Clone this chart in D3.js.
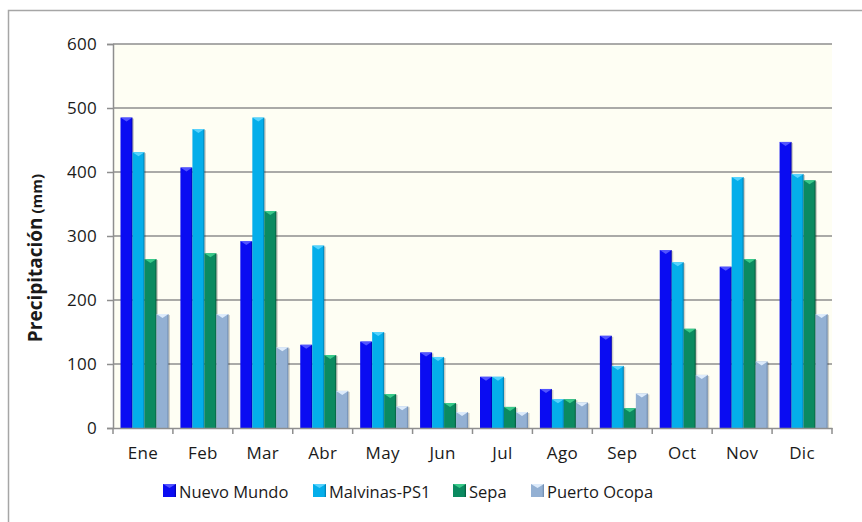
<!DOCTYPE html>
<html>
<head>
<meta charset="utf-8">
<script src="https://cdn.jsdelivr.net/npm/d3@7/dist/d3.min.js"></script>
<style>
  html, body { margin: 0; padding: 0; background: #fff; }
  svg { display: block; }
  text { font-family: "Open Sans", "Noto Sans", sans-serif; fill: #1a1a1a; }
</style>
</head>
<body>
<svg id="chart" width="862" height="522"></svg>
<script>
// Monthly precipitation (mm) at four stations
const months = ["Ene", "Feb", "Mar", "Abr", "May", "Jun", "Jul", "Ago", "Sep", "Oct", "Nov", "Dic"];
const seriesNames = ["Nuevo Mundo", "Malvinas-PS1", "Sepa", "Puerto Ocopa"];
const nuevoMundo  = [485, 407, 292, 130, 135, 118, 80, 61, 144, 278, 252, 447];
const malvinas    = [431, 467, 485, 285, 150, 111, 80, 45, 97, 259, 392, 397];
const sepa        = [264, 273, 339, 114, 53, 39, 33, 45, 31, 155, 264, 387];
const puertoOcopa = [178, 178, 126, 58, 34, 25, 25, 40, 54, 83, 104, 178];
const yTicks = [0, 100, 200, 300, 400, 500, 600];

const seriesValues = [nuevoMundo, malvinas, sepa, puertoOcopa];
const colors = ["#0a0cf2", "#04aeea", "#0b8a60", "#93b0d3"];
const lights = ["#5a5cff", "#5fd6ff", "#3fd08f", "#e6f2ff"];
const darks  = ["#0000a8", "#0078a8", "#06563a", "#6a86aa"];

const svg = d3.select("#chart");

// outer frame
svg.append("rect")
  .attr("x", 8.5).attr("y", 10.5)
  .attr("width", 900).attr("height", 600)
  .attr("fill", "none").attr("stroke", "#a6a6a6").attr("stroke-width", 1.5);

const x = d3.scaleBand().domain(months).range([113, 832]).padding(0);
const xs = d3.scaleBand().domain(seriesNames).range([7.5, 55.5]).padding(0);
const y = d3.scaleLinear().domain([0, 600]).range([428, 44]);

// plot area background
svg.append("rect")
  .attr("x", 113).attr("y", y(600))
  .attr("width", 832 - 113).attr("height", y(0) - y(600))
  .attr("fill", "#fefef3");

// gradients for the bar faces
const defs = svg.append("defs");
seriesNames.forEach((s, i) => {
  const g = defs.append("linearGradient").attr("id", "g" + i)
    .attr("x1", "0%").attr("x2", "100%").attr("y1", "0%").attr("y2", "0%");
  g.append("stop").attr("offset", "0%").attr("stop-color", colors[i]);
  g.append("stop").attr("offset", "85%").attr("stop-color", colors[i]);
  g.append("stop").attr("offset", "100%").attr("stop-color", darks[i]);
});

// gridlines
svg.append("g").selectAll("line").data(yTicks.filter(d => d > 0)).join("line")
  .attr("x1", 113).attr("x2", 832)
  .attr("y1", d => y(d)).attr("y2", d => y(d))
  .attr("stroke", "#8e8e8e").attr("stroke-width", 1.6);

// bars
const groups = svg.append("g").selectAll("g").data(months).join("g")
  .attr("transform", d => `translate(${x(d)},0)`);

groups.each(function(m, mi) {
  const gsel = d3.select(this);
  seriesNames.forEach((s, si) => {
    const v = seriesValues[si][mi];
    const bx = xs(s), bw = xs.bandwidth();
    // soft shadow on the right
    gsel.append("rect")
      .attr("x", bx + 1.5).attr("y", y(v) + 1)
      .attr("width", bw).attr("height", y(0) - y(v) - 1)
      .attr("fill", "rgba(0,0,0,0.18)");
    gsel.append("rect")
      .attr("x", bx).attr("y", y(v))
      .attr("width", bw).attr("height", y(0) - y(v))
      .attr("fill", `url(#g${si})`);
    // bevelled top
    gsel.append("path")
      .attr("d", `M${bx},${y(v)} L${bx + bw},${y(v)} L${bx + bw / 2},${y(v) + 4} Z`)
      .attr("fill", lights[si]).attr("opacity", 0.9);
  });
});

// y axis
const yAxis = d3.axisLeft(y).tickValues(yTicks).tickSize(6).tickPadding(10);
const ya = svg.append("g").attr("transform", "translate(113,0)").call(yAxis);
ya.select(".domain").attr("stroke", "#8e8e8e").attr("stroke-width", 1.5);
ya.selectAll(".tick line").attr("stroke", "#8e8e8e").attr("stroke-width", 1.5);
ya.selectAll(".tick text").style("font-size", "17px").attr("fill", "#1a1a1a")
  .style("font-family", "'Open Sans', sans-serif").attr("letter-spacing", "0.3");

// x axis
const xAxis = d3.axisBottom(x).tickSize(0).tickPadding(19);
const xa = svg.append("g").attr("transform", "translate(0,428)").call(xAxis);
xa.select(".domain").attr("stroke", "#8e8e8e").attr("stroke-width", 1.5);
xa.selectAll(".tick text").style("font-size", "17px").attr("fill", "#1a1a1a")
  .style("font-family", "'Open Sans', sans-serif").attr("letter-spacing", "0.3");
// category separators
svg.append("g").selectAll("line").data(months.concat(["__end"])).join("line")
  .attr("x1", (d, i) => 113 + i * x.bandwidth())
  .attr("x2", (d, i) => 113 + i * x.bandwidth())
  .attr("y1", 428).attr("y2", 434)
  .attr("stroke", "#8e8e8e").attr("stroke-width", 1.5);

// y axis title
const yt = svg.append("text")
  .attr("transform", "translate(42,258) rotate(-90)")
  .attr("text-anchor", "middle")
  .style("font-weight", "bold");
yt.append("tspan").text("Precipitación").style("font-size", "19px");
yt.append("tspan").text(" (mm)").style("font-size", "15px");

// legend
const legendX = [163, 313, 453, 531];
const legend = svg.append("g").selectAll("g").data(seriesNames).join("g")
  .attr("transform", (d, i) => `translate(${legendX[i]},484)`);
legend.append("rect").attr("width", 13).attr("height", 13)
  .attr("fill", (d, i) => `url(#g${i})`);
legend.append("path")
  .attr("d", "M0,0 L13,0 L6.5,4 Z")
  .attr("fill", (d, i) => lights[i]).attr("opacity", 0.9);
legend.append("text").attr("x", 16).attr("y", 13.5)
  .style("font-size", "16.5px")
  .text(d => d);
</script>
</body>
</html>
